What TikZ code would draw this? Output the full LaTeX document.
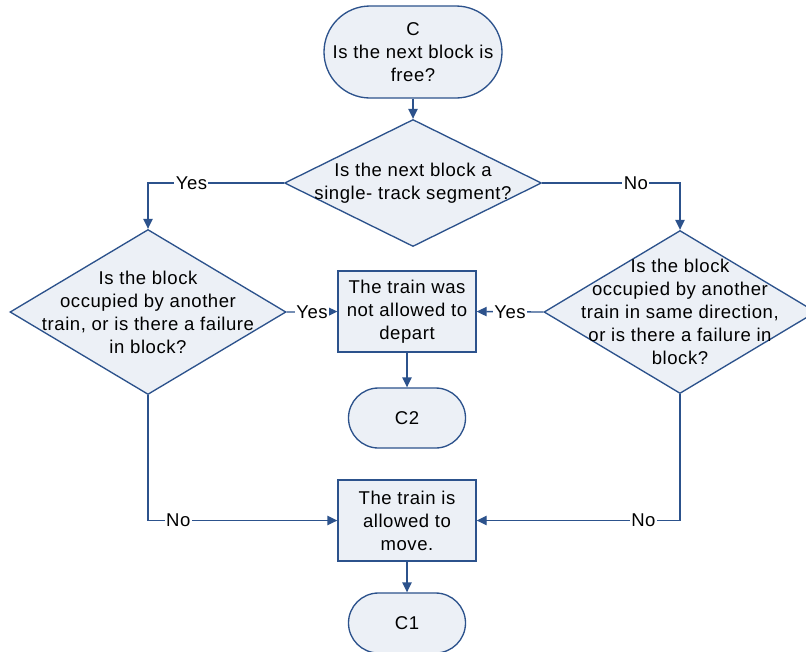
\documentclass[tikz,border=0pt]{standalone}
\usepackage{fontspec}
\setmainfont{Liberation Sans}[LetterSpace=3]
\usetikzlibrary{shapes.geometric,shapes.misc,arrows.meta}

\definecolor{edge}{RGB}{44,82,140}
\definecolor{shade}{RGB}{236,240,246}

\begin{document}
\begin{tikzpicture}[x=0.75pt,y=-0.75pt,
  every node/.style={font=\fontsize{13.9pt}{17.25pt}\selectfont},
  base/.style={draw=edge,fill=shade,line width=1pt,inner sep=0pt},
  terminal/.style={base,rounded rectangle},
  decision/.style={base,diamond},
  process/.style={base,rectangle},
  txt/.style={align=center,inner sep=0pt},
  arr/.style={draw=edge,line width=1pt,-{Triangle[length=7.5pt,width=7pt]}},
  lbl/.style={fill=white,inner sep=1pt}]

% canvas
\fill[white] (0,0) rectangle (806,651);
\useasboundingbox (0,0) rectangle (806,651);

% shapes
\node[terminal,minimum width=133.5pt,minimum height=69pt] (c) at (413,52) {};
\node[decision,minimum width=192.75pt,minimum height=95.25pt] (d1) at (413,183) {};
\node[decision,minimum width=207pt,minimum height=123.75pt] (d2) at (148,312) {};
\node[decision,minimum width=204pt,minimum height=122.25pt] (d3) at (680,312) {};
\node[process,minimum width=103.5pt,minimum height=60.75pt] (b1) at (407,311.5) {};
\node[terminal,minimum width=87.75pt,minimum height=45pt] (c2) at (407,418) {};
\node[process,minimum width=103.5pt,minimum height=60.75pt] (b2) at (407,520.5) {};
\node[terminal,minimum width=87.75pt,minimum height=45pt] (c1) at (407,623) {};

% texts
\node[txt] (tc) at (c) {C\\Is the next block is\\free?};
\node[txt] (td1) at (d1) {Is the next block a\\single- track segment?};
\node[txt] (td2) at (d2) {Is the block\\occupied by another\\train, or is there a failure\\in block?};
\node[txt] (td3) at (d3) {Is the block\\occupied by another\\train in same direction,\\or is there a failure in\\block?};
\node[txt] (tb1) at (b1) {The train was\\not allowed to\\depart};
\node[txt] (tc2) at (c2) {C2};
\node[txt] (tb2) at (b2) {The train is\\allowed to\\move.};
\node[txt] (tc1) at (c1) {C1};

% connectors
\draw[arr] (c) -- (d1);
\draw[arr] (d1.west) -| node[lbl,pos=0.34] {Yes} (d2.north);
\draw[arr] (d1.east) -| node[lbl,pos=0.34] {No} (d3.north);
\draw[arr] (d2.east) -- node[lbl,pos=0.5] {Yes} (b1.west);
\draw[arr] (d3.west) -- node[lbl,pos=0.5] {Yes} (b1.east);
\draw[arr] (b1) -- (c2);
\draw[arr] (d2.south) |- node[lbl,pos=0.58] {No} (b2.west);
\draw[arr] (d3.south) |- node[lbl,pos=0.59] {No} (b2.east);
\draw[arr] (b2) -- (c1);
\end{tikzpicture}
\end{document}
